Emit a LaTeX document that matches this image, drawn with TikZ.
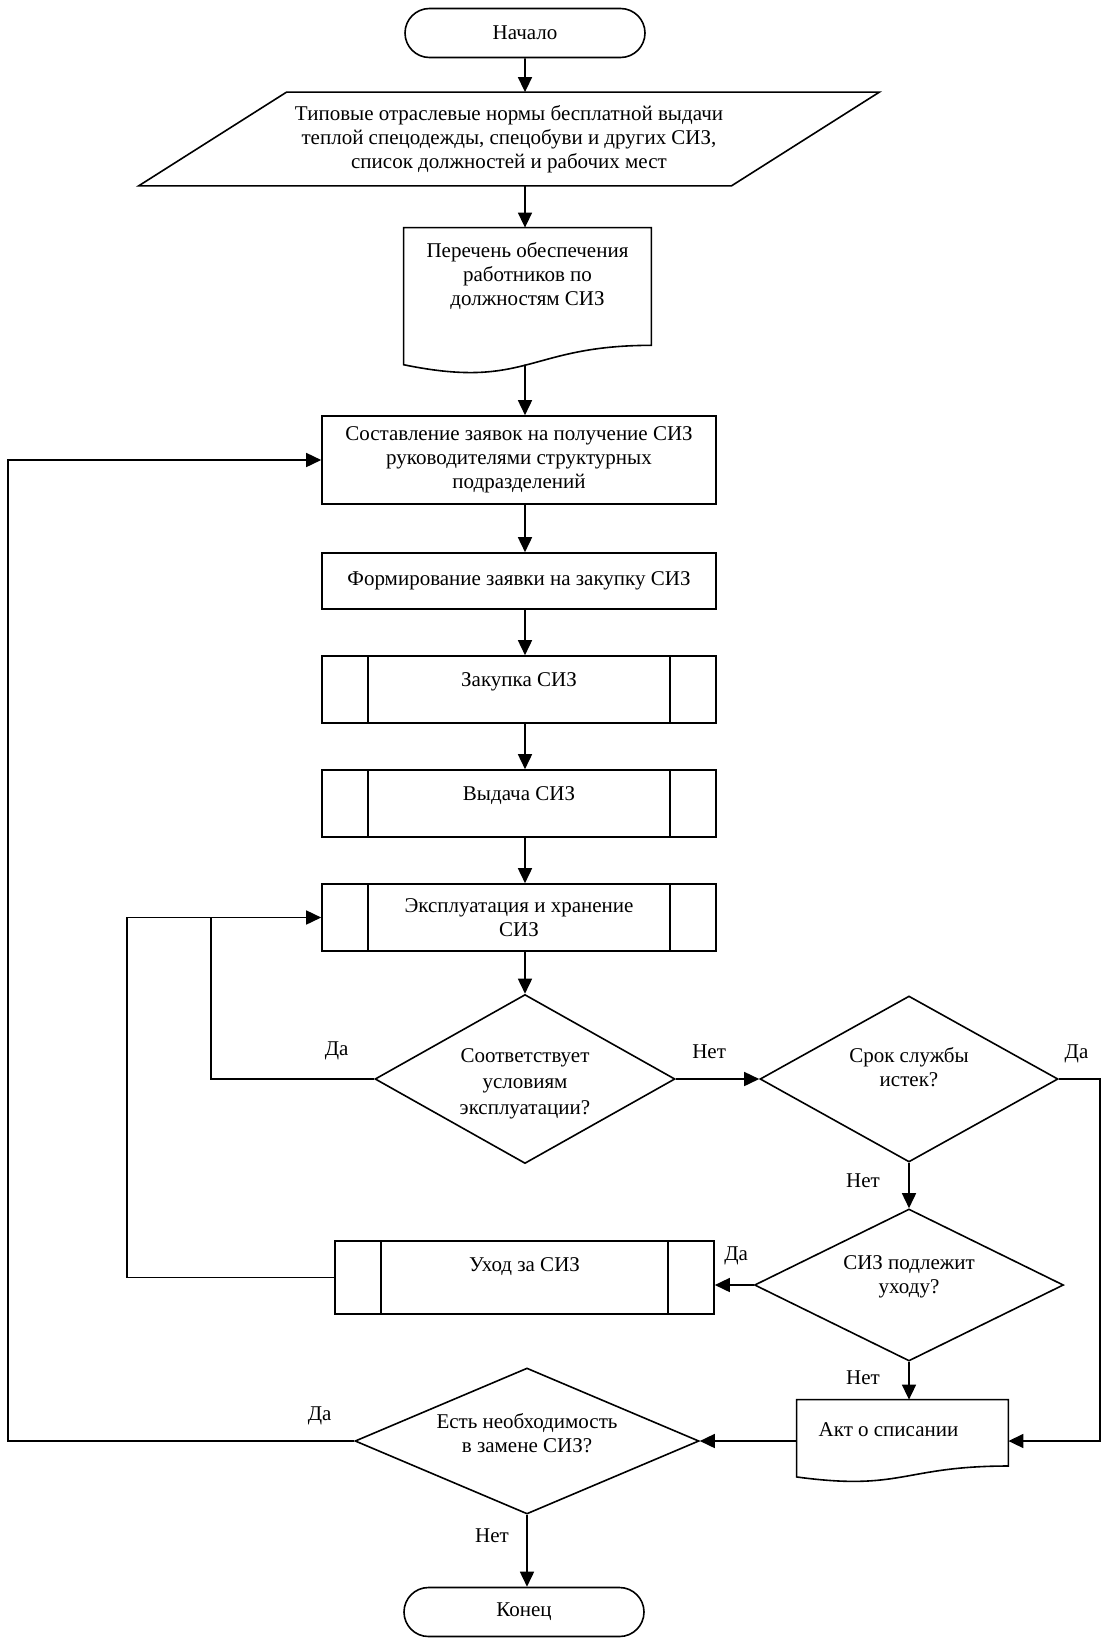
\documentclass[tikz,border=0pt]{standalone}
\usepackage{fontspec}
\setmainfont{Liberation Serif}
\usetikzlibrary{shapes.geometric,shapes.misc,arrows.meta,calc}

% outline of a document block round a named node
\newcommand{\docframe}[1]{%
  \draw[wire] (#1.north west) -- (#1.north east)
    -- ($(#1.north east)!0.802!(#1.south east)$)
    .. controls ($(#1.north)!0.802!(#1.south)$) and ($(#1.north)!1.108!(#1.south)$)
    .. ($(#1.north west)!0.934!(#1.south west)$) -- cycle;}

\begin{document}
\begin{tikzpicture}[x=0.5pt,y=-0.5pt,
  every node/.style={font=\fontsize{10.5pt}{12pt}\selectfont},
  wire/.style={line width=0.8pt},
  box/.style={draw,line width=0.8pt,inner sep=0pt},
  term/.style={box,rounded rectangle,minimum width=120pt,minimum height=24.5pt},
  proc/.style={box,minimum width=197pt,align=center},
  subproc/.style={proc,minimum height=33.5pt,text height=15pt,text depth=18.5pt},
  dec/.style={box,diamond,aspect=2,align=center},
  lbl/.style={inner sep=0pt,anchor=base},
  arr/.style={line width=0.8pt,-{Triangle[length=7.5pt,width=7pt]}}]
\useasboundingbox (0,0) rectangle (1102,1638);

% blocks
\draw(525,33)node[term](start){Начало};
\draw(509,139)node[inner sep=0pt,minimum width=222pt,minimum height=46.5pt,align=center](norms){Типовые отраслевые нормы бесплатной выдачи\\теплой спецодежды, спецобуви и других СИЗ,\\список должностей и рабочих мест};
\draw[wire](norms.north west)--([xshift=74pt]norms.north east)--(norms.south east)--([xshift=-74pt]norms.south west)--cycle;
\draw(527.5,301)node[inner sep=0pt,minimum width=123.5pt,text height=14.5pt,text depth=58.5pt](list){\parbox[t]{123pt}{\centering Перечень обеспечения\\работников по\\должностям СИЗ}};
\docframe{list}
\draw(519,460)node[proc,minimum height=44pt](req){Составление заявок на получение СИЗ\\руководителями структурных\\подразделений};
\draw(519,581)node[proc,minimum height=28pt](order){Формирование заявки на закупку СИЗ};
\draw(519,689.5)node[subproc](buy){Закупка СИЗ};
\draw(519,803.5)node[subproc](issue){Выдача СИЗ};
\draw(519,917.5)node[proc,minimum height=33.5pt](use){Эксплуатация и хранение\\СИЗ};
\draw(525,1079)node[dec,aspect=1.8,minimum width=150pt,minimum height=84.5pt,text height=12pt,text depth=29pt](fit){\parbox[t]{70pt}{\centering\baselineskip=13pt Соответствует\\условиям\\эксплуатации?}};
\draw(909,1079)node[dec,minimum width=149pt,minimum height=83pt,text height=9pt,text depth=26pt](ok){\parbox[t]{70pt}{\centering Срок службы\\истек?}};
\draw(909,1285)node[dec,minimum width=154.5pt,minimum height=76pt,text height=9pt,text depth=25pt](wash){\parbox[t]{72pt}{\centering СИЗ подлежит\\уходу?}};
\draw(524.5,1277.5)node[subproc,minimum width=189.5pt,minimum height=36.5pt,text depth=21.5pt](care){Уход за СИЗ};
\draw(902.5,1441)node[inner sep=0pt,minimum width=105.5pt,text height=18pt,text depth=23pt](act){Акт о списании\hspace*{14pt}};
\docframe{act}
\draw(527,1441)node[dec,aspect=2.3,minimum width=172pt,minimum height=73pt,text height=9pt,text depth=22pt](need){\parbox[t]{94pt}{\centering Есть необходимость\\в замене СИЗ?}};
\draw(524,1612)node[term](stop){Конец};

\foreach \n in {buy,issue,use,care}
  \draw[wire]([xshift=23.5pt]\n.north west)--([xshift=23.5pt]\n.south west)
    ([xshift=-23.5pt]\n.north east)--([xshift=-23.5pt]\n.south east);

% connectors
\coordinate(loopA) at (211,0);
\coordinate(loopB) at (127,0);
\coordinate(loopC) at (8,0);
\coordinate(rim) at (1100,0);
\draw[arr](start)--(start |- norms.north);
\draw[arr](start |- norms.south)--(start |- list.north);
\draw[arr]($(list.north -| start)!0.933!(list.south -| start)$)--(start |- req.north);
\foreach \a/\b in {req/order,order/buy,buy/issue,issue/use,use/fit}
  \draw[arr](start |- \a.south)--(start |- \b.north);
\draw[arr](fit.west)--node[lbl,pos=0.23,yshift=12pt]{Да}(loopA |- fit.west)|-(use.west);
\draw[wire](care.west)-|(loopB |- use.west)--(loopA |- use.west);
\draw[arr](fit.east)--node[lbl,pos=0.4,yshift=10.5pt]{Нет}(ok.west);
\draw[arr](ok.east)--node[lbl,pos=0.43,yshift=10.5pt]{Да}(rim |- ok.east)|-(act.east);
\draw[arr](ok.south)--node[lbl,pos=0.55,xshift=-23pt]{Нет}(wash.north);
\draw[arr](wash.west)--node[lbl,pos=0.45,yshift=12.5pt]{Да}(care.east |- wash.west);
\draw[arr](wash.south)--node[lbl,pos=0.6,xshift=-23pt]{Нет}(wash.south |- act.north);
\draw[arr](act.west)--(need.east);
\draw[arr](need.west)--node[lbl,pos=0.1,yshift=10.5pt]{Да}(loopC |- need.west)|-(req.west);
\draw[arr](need.south)--node[lbl,pos=0.39,xshift=-17.5pt]{Нет}(need.south |- stop.north);
\end{tikzpicture}
\end{document}
